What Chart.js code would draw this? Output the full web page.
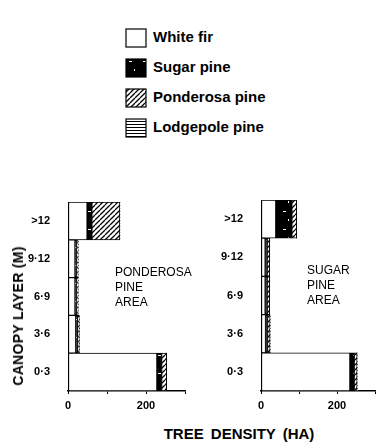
<!DOCTYPE html>
<html>
<head>
<meta charset="utf-8">
<script src="https://cdn.jsdelivr.net/npm/chart.js@4.4.1/dist/chart.umd.min.js"></script>
<style>
  body { margin: 0; background: #fff; width: 388px; height: 447px; position: relative; overflow: hidden;
         font-family: "Liberation Sans", Arial, sans-serif; color: #000; }
  .abs { position: absolute; }
  .legend-item { position: absolute; left: 125px; height: 20px; }
  .legend-item canvas { position: absolute; left: 0; top: 0; }
  .legend-item span { position: absolute; left: 28px; top: 0px; font-size: 15px; font-weight: bold; white-space: nowrap; }
  .note { position: absolute; font-size: 12px; line-height: 15px; }
  .ytitle { position: absolute; left: 18px; top: 316px; font-size: 14px; font-weight: bold; white-space: nowrap; letter-spacing: 0.3px;
            transform: translate(-50%, -50%) rotate(-90deg); }
  .xtitle { position: absolute; left: 239px; top: 433px; font-size: 15px; font-weight: bold; white-space: nowrap;
            transform: translate(-50%, -50%); word-spacing: 3px; }
</style>
</head>
<body>

<div class="legend-item" style="top:28px"><canvas id="lg0" width="22" height="20"></canvas><span>White fir</span></div>
<div class="legend-item" style="top:58px"><canvas id="lg1" width="22" height="20"></canvas><span>Sugar pine</span></div>
<div class="legend-item" style="top:88px"><canvas id="lg2" width="22" height="20"></canvas><span>Ponderosa pine</span></div>
<div class="legend-item" style="top:118px"><canvas id="lg3" width="22" height="20"></canvas><span>Lodgepole pine</span></div>

<div class="abs" style="left:0;top:190px;width:195px;height:230px"><canvas id="ponderosaChart"></canvas></div>
<div class="abs" style="left:195px;top:190px;width:193px;height:230px"><canvas id="sugarChart"></canvas></div>

<div class="note" style="left:115px;top:265px">PONDEROSA<br>PINE<br>AREA</div>
<div class="note" style="left:307px;top:263px">SUGAR<br>PINE<br>AREA</div>

<div class="ytitle">CANOPY LAYER (M)</div>
<div class="xtitle">TREE DENSITY (HA)</div>

<script>
// canopy layers, top to bottom
const layers = ['>12', '9·12', '6·9', '3·6', '0·3'];
const species = ['White fir', 'Sugar pine', 'Ponderosa pine', 'Lodgepole pine'];
const xTickLabels = [0, 200];

// Ponderosa pine area (trees / ha)
const ponWhiteFir  = [49, 18, 18, 20, 228];
const ponSugar     = [12, 4, 4, 5, 12];
const ponPonderosa = [72, 4, 4, 4, 13];
const ponLodgepole = [0, 0, 0, 0, 0];

// Sugar pine area (trees / ha)
const sugWhiteFir  = [39, 11, 11, 12, 234];
const sugSugar     = [42, 5, 5, 5, 11];
const sugPonderosa = [13, 7, 7, 7, 8];
const sugLodgepole = [0, 0, 0, 0, 0];

// fill patterns like the old print
function makePattern(kind) {
  const c = document.createElement('canvas');
  const g = c.getContext('2d');
  if (kind === 'speck') {
    c.width = 14; c.height = 18;
    g.fillStyle = '#000'; g.fillRect(0, 0, 14, 18);
    g.fillStyle = '#fff';
    g.fillRect(4, 3, 3, 1); g.fillRect(9, 11, 1, 2);
  } else if (kind === 'hatch') {
    const s = 5;
    c.width = s; c.height = s;
    g.fillStyle = '#fff'; g.fillRect(0, 0, s, s);
    g.strokeStyle = '#000'; g.lineWidth = 1.3;
    g.beginPath();
    for (const k of [-s, 0, s]) { g.moveTo(k, s); g.lineTo(k + s, 0); }
    g.stroke();
  } else if (kind === 'lines') {
    c.width = 4; c.height = 3;
    g.fillStyle = '#fff'; g.fillRect(0, 0, 4, 3);
    g.fillStyle = '#000'; g.fillRect(0, 0, 4, 1);
  }
  return g.createPattern(c, 'repeat');
}

const fills = ['#fff', makePattern('speck'), makePattern('hatch'), makePattern('lines')];

// legend swatches
fills.forEach(function (f, i) {
  const ctx = document.getElementById('lg' + i).getContext('2d');
  ctx.fillStyle = f;
  ctx.fillRect(1, 1, 20, 18);
  ctx.strokeStyle = '#000';
  ctx.lineWidth = 1.2;
  ctx.strokeRect(1, 1, 20, 18);
});

function buildPanel(id, series, pad, yWidth) {
  const datasets = series.map(function (vals, i) {
    return {
      label: species[i],
      data: vals,
      backgroundColor: fills[i],
      borderColor: '#000',
      borderWidth: i === 3 ? 0 : 1,
      borderSkipped: false,
      barPercentage: 1,
      categoryPercentage: 1
    };
  });

  new Chart(document.getElementById(id), {
    type: 'bar',
    data: { labels: layers, datasets: datasets },
    options: {
      indexAxis: 'y',
      responsive: true,
      maintainAspectRatio: false,
      animation: false,
      layout: { padding: pad },
      plugins: { legend: { display: false }, tooltip: { enabled: false } },
      scales: {
        x: {
          stacked: true,
          min: 0,
          max: 300,
          grid: { drawOnChartArea: false, tickLength: 3, color: '#000' },
          border: { color: '#000', width: 1.5 },
          ticks: {
            stepSize: 100,
            padding: 5,
            color: '#000',
            font: { size: 11, weight: 'bold', family: 'Liberation Sans' },
            callback: function (v) { return xTickLabels.includes(v) ? v : ''; }
          },
          afterFit: function (s) { s.height = 29; }
        },
        y: {
          stacked: true,
          grid: { display: false },
          border: { color: '#000', width: 1 },
          ticks: {
            padding: 10,
            color: '#000',
            font: { size: 11, weight: 'bold', family: 'Liberation Sans' }
          },
          afterFit: function (s) {
            s.width = yWidth;
            // labels sit mid-row, so no extra room is needed above/below
            s.paddingTop = 0;
            s.paddingBottom = 0;
          }
        }
      }
    }
  });
}

buildPanel('ponderosaChart', [ponWhiteFir, ponSugar, ponPonderosa, ponLodgepole],
  { left: 0, right: 10, top: 12, bottom: 0 }, 68);
buildPanel('sugarChart', [sugWhiteFir, sugSugar, sugPonderosa, sugLodgepole],
  { left: 0, right: 13, top: 10, bottom: 0 }, 66);
</script>
</body>
</html>
